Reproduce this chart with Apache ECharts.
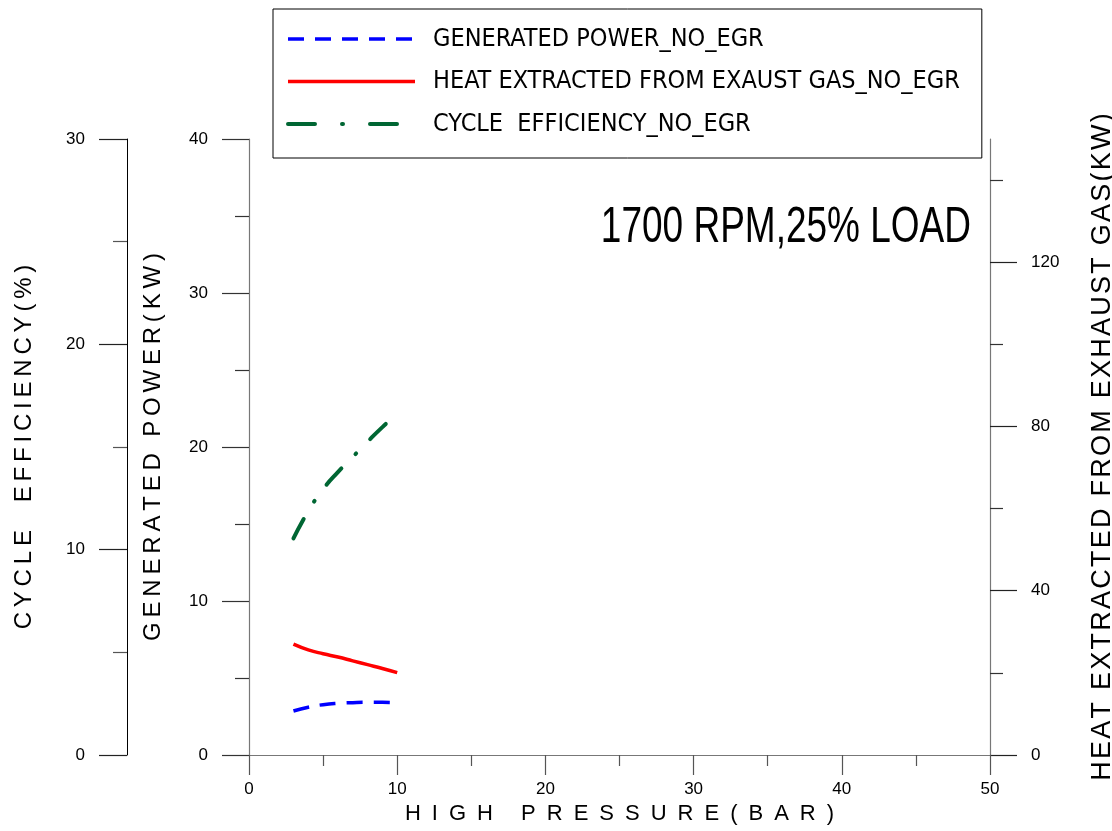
<!DOCTYPE html>
<html>
<head>
<meta charset="utf-8">
<script src="https://cdn.jsdelivr.net/npm/echarts@6/dist/echarts.min.js"></script>
<style>
html,body{margin:0;padding:0;background:#fff;}
#chart{width:1112px;height:831px;}
</style>
</head>
<body>
<div id="chart"></div>
<script>
// ---- data ----
const pressure = [3, 4, 5, 6, 7, 8, 9, 10];
const generatedPower = [2.86, 3.10, 3.27, 3.36, 3.40, 3.42, 3.42, 3.40];
const heatExtracted = [27.0, 25.6, 24.65, 23.86, 22.93, 22.0, 21.07, 20.05];
const cycleEfficiency = [10.55, 11.88, 12.95, 13.78, 14.52, 15.26, 15.97, 16.62];
const seriesNames = ['GENERATED POWER_NO_EGR', 'HEAT EXTRACTED FROM EXAUST GAS_NO_EGR', 'CYCLE  EFFICIENCY_NO_EGR'];
const heatMajorTicks = [0, 40, 80, 120];
const heatMinorTicks = [20, 60, 100, 140];
const chartTitle = '1700 RPM,25% LOAD';
const xTitle = 'HIGH PRESSURE(BAR)';
const effTitle = 'CYCLE  EFFICIENCY(%)';
const powerTitle = 'GENERATED POWER(KW)';
const heatTitle = 'HEAT EXTRACTED FROM EXHAUST GAS(KW)';

function track(s, sep) { return s.split('').join(sep); }
const pairs = arr => pressure.map((x, i) => [x, arr[i]]);

const SANS = '"Liberation Sans", Arial, sans-serif';
const NARROW = '"DejaVu Sans Condensed", "Liberation Sans", sans-serif';
const tickLabel = { fontFamily: SANS, fontSize: 17, color: '#000' };

const chart = echarts.init(document.getElementById('chart'), null, { renderer: 'canvas' });
chart.setOption({
  backgroundColor: '#fff',
  animation: false,
  graphic: [{
    type: 'text', x: 971, y: 228, scaleX: 0.74, z: 10,
    style: { text: chartTitle, fontFamily: SANS, fontSize: 50, fill: '#000', textAlign: 'right', textVerticalAlign: 'middle' }
  }],
  legend: {
    orient: 'vertical', left: 273, top: 9, padding: [15, 22, 19, 13],
    itemGap: 12.5, itemWidth: 127, itemHeight: 3,
    borderColor: '#000', borderWidth: 1, borderRadius: 0, backgroundColor: '#fff',
    itemStyle: { opacity: 0 },
    lineStyle: { width: 3.5 },
    textStyle: { fontFamily: NARROW, fontSize: 25, color: '#000', lineHeight: 30, padding: [0, 0, 0, 13] },
    data: [
      { name: seriesNames[0] },
      { name: seriesNames[1] },
      { name: seriesNames[2], lineStyle: { width: 4, type: [27, 27, 1, 27], cap: 'round' } }
    ]
  },
  grid: { left: 249, right: 122, top: 139, bottom: 76, containLabel: false, outerBoundsMode: 'none' },
  xAxis: {
    type: 'value', min: 0, max: 50, interval: 10,
    name: track(xTitle, '\u2002'), nameLocation: 'middle', nameGap: 40,
    nameTextStyle: { fontFamily: SANS, fontSize: 22, color: '#000' },
    axisLine: { show: true, onZero: false, lineStyle: { color: '#777', width: 1.2 } },
    axisTick: { show: true, length: 20, lineStyle: { color: '#555', width: 1.2 } },
    minorTick: { show: true, splitNumber: 2, length: 11, lineStyle: { color: '#555', width: 1.2 } },
    axisLabel: Object.assign({ margin: 26 }, tickLabel),
    splitLine: { show: false }
  },
  yAxis: [
    {
      type: 'value', min: 0, max: 30, interval: 10, position: 'left', offset: 122,
      name: track(effTitle, '\u2009'), nameLocation: 'middle', nameGap: 91, nameRotate: 90,
      nameTextStyle: { fontFamily: SANS, fontSize: 24, color: '#000' },
      axisLine: { show: true, onZero: false, lineStyle: { color: '#000', width: 1 } },
      axisTick: { show: true, length: 28, lineStyle: { color: '#222', width: 1.2 } },
      minorTick: { show: true, splitNumber: 2, length: 14, lineStyle: { color: '#555', width: 1.2 } },
      axisLabel: Object.assign({ margin: 42 }, tickLabel),
      splitLine: { show: false }
    },
    {
      type: 'value', min: 0, max: 40, interval: 10, position: 'left', offset: 0,
      name: track(powerTitle, '\u2009'), nameLocation: 'middle', nameGap: 84, nameRotate: 90,
      nameTextStyle: { fontFamily: SANS, fontSize: 24, color: '#000' },
      axisLine: { show: true, onZero: false, lineStyle: { color: '#777', width: 1.2 } },
      axisTick: { show: true, length: 27, lineStyle: { color: '#333', width: 1.2 } },
      minorTick: { show: true, splitNumber: 2, length: 14, lineStyle: { color: '#333', width: 1.2 } },
      axisLabel: Object.assign({ margin: 41 }, tickLabel),
      splitLine: { show: false }
    },
    {
      type: 'value', min: 0, max: 150, position: 'right', offset: 0,
      name: track(heatTitle, '\u200A'), nameLocation: 'middle', nameGap: 99, nameRotate: 90,
      nameTextStyle: { fontFamily: SANS, fontSize: 27, color: '#000' },
      axisLine: { show: true, onZero: false, lineStyle: { color: '#777', width: 1.2 } },
      axisTick: { show: true, length: 27, customValues: heatMajorTicks, lineStyle: { color: '#222', width: 1.2 } },
      axisLabel: Object.assign({ margin: 41, customValues: heatMajorTicks }, tickLabel),
      splitLine: { show: false }
    },
    {
      type: 'value', min: 0, max: 150, position: 'right', offset: 0,
      axisLine: { show: false, onZero: false },
      axisTick: { show: true, length: 13, customValues: heatMinorTicks, lineStyle: { color: '#333', width: 1.2 } },
      axisLabel: { show: false },
      splitLine: { show: false }
    }
  ],
  series: [
    {
      name: seriesNames[0], type: 'line', yAxisIndex: 1, smooth: true, symbol: 'none',
      data: pairs(generatedPower), color: '#0000ff',
      lineStyle: { color: '#0000ff', width: 3.5, type: [16, 11] }
    },
    {
      name: seriesNames[1], type: 'line', yAxisIndex: 2, smooth: true, symbol: 'none',
      data: pairs(heatExtracted), color: '#ff0000',
      lineStyle: { color: '#ff0000', width: 3.5, type: 'solid' }
    },
    {
      name: seriesNames[2], type: 'line', yAxisIndex: 0, smooth: true, symbol: 'none',
      data: pairs(cycleEfficiency), color: '#006633',
      lineStyle: { color: '#006633', width: 4, type: [22, 20, 1, 20], cap: 'round' }
    }
  ]
});
</script>
</body>
</html>
